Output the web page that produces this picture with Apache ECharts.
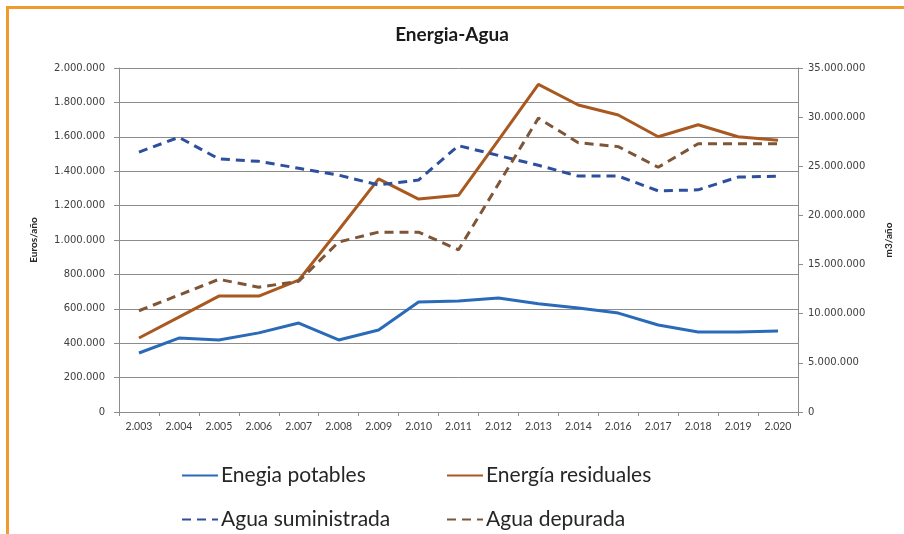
<!DOCTYPE html>
<html>
<head>
<meta charset="utf-8">
<script src="https://cdn.jsdelivr.net/npm/echarts@6/dist/echarts.min.js"></script>
<style>
  html, body { margin: 0; padding: 0; background: #fff; }
  #chart { width: 904px; height: 534px; }
  .frame {
    position: absolute; left: 6px; top: 6px; right: 0; bottom: 0;
    border-top: 3px solid #f29a2e; border-left: 3px solid #f29a2e;
    pointer-events: none;
  }
</style>
</head>
<body>
<div id="chart"></div>
<div class="frame"></div>
<script>
const years = ['2.003', '2.004', '2.005', '2.006', '2.007', '2.008', '2.009', '2.010', '2.011',
  '2.012', '2.013', '2.014', '2.016', '2.017', '2.018', '2.019', '2.020']

// euros/año (eje izquierdo)
const energiaPotables = [343000, 430000, 419000, 460000, 517000, 419000, 477000, 640000, 645000,
  663000, 630000, 605000, 575000, 506000, 465000, 465000, 471000]
const energiaResiduales = [430000, 552000, 674000, 674000, 767000, 1058000, 1355000, 1238000, 1260000,
  1580000, 1905000, 1785000, 1727000, 1600000, 1670000, 1600000, 1580000]

// m3/año (eje derecho)
const aguaSuministrada = [26450000, 27950000, 25750000, 25500000, 24800000, 24100000, 23100000, 23600000, 27100000,
  26100000, 25100000, 24000000, 24000000, 22500000, 22600000, 23900000, 24000000]
const aguaDepurada = [10300000, 11900000, 13500000, 12700000, 13300000, 17300000, 18300000, 18300000, 16500000,
  23200000, 29900000, 27400000, 27000000, 24900000, 27300000, 27300000, 27300000]

const fmt = v => String(v).replace(/\B(?=(\d{3})+(?!\d))/g, '.')

const chart = echarts.init(document.getElementById('chart'))
const txt = '#404040'
const legendText = { fontFamily: 'Lato', fontSize: 21, color: '#262626', padding: [0, 0, 0, -2] }
const legendBase = { itemWidth: 36, itemHeight: 14, itemStyle: { opacity: 0 }, textStyle: legendText }

chart.setOption({
  animation: false,
  backgroundColor: '#fff',
  title: {
    text: 'Energia-Agua',
    left: 'center',
    top: 20,
    textStyle: { fontFamily: 'Lato', fontSize: 19, fontWeight: 'bold', color: '#1a1a1a' }
  },
  legend: [
    Object.assign({ data: ['Enegia potables'], left: 176, top: 460 }, legendBase),
    Object.assign({ data: ['Energía residuales'], left: 441, top: 460 }, legendBase),
    Object.assign({ data: ['Agua suministrada'], left: 176, top: 504 }, legendBase),
    Object.assign({ data: ['Agua depurada'], left: 441, top: 504 }, legendBase)
  ],
  grid: { left: 119, right: 106, top: 68, bottom: 122 },
  xAxis: {
    type: 'category',
    data: years,
    axisLine: { lineStyle: { color: '#8c8c8c' } },
    axisTick: { show: true, length: 4, lineStyle: { color: '#8c8c8c' } },
    axisLabel: { fontFamily: 'Lato', fontSize: 10.5, color: txt, margin: 9 }
  },
  yAxis: [{
    type: 'value',
    min: 0,
    max: 2000000,
    interval: 200000,
    name: 'Euros/año',
    nameLocation: 'middle',
    nameRotate: 90,
    nameGap: 80,
    nameTextStyle: { fontFamily: 'Lato', fontSize: 10, fontWeight: 'bold', color: '#262626' },
    axisLine: { show: true, lineStyle: { color: '#8c8c8c' } },
    axisTick: { show: true, length: 5, lineStyle: { color: '#8c8c8c' } },
    splitLine: { lineStyle: { color: '#8c8c8c' } },
    axisLabel: { fontFamily: 'DejaVu Sans', fontSize: 10, color: txt, margin: 14, formatter: fmt }
  }, {
    type: 'value',
    min: 0,
    max: 35000000,
    interval: 5000000,
    name: 'm3/año',
    nameLocation: 'middle',
    nameRotate: 90,
    nameGap: 86,
    nameTextStyle: { fontFamily: 'Lato', fontSize: 10, fontWeight: 'bold', color: '#262626' },
    axisLine: { show: true, lineStyle: { color: '#8c8c8c' } },
    axisTick: { show: true, length: 5, lineStyle: { color: '#8c8c8c' } },
    splitLine: { show: false },
    axisLabel: { fontFamily: 'DejaVu Sans', fontSize: 10, color: txt, margin: 10, formatter: fmt }
  }],
  series: [{
    name: 'Enegia potables',
    type: 'line',
    yAxisIndex: 0,
    data: energiaPotables,
    symbol: 'none',
    color: '#2a6ab8',
    lineStyle: { width: 3, color: '#2a6ab8' }
  }, {
    name: 'Energía residuales',
    type: 'line',
    yAxisIndex: 0,
    data: energiaResiduales,
    symbol: 'none',
    color: '#a9581f',
    lineStyle: { width: 3, color: '#a9581f' }
  }, {
    name: 'Agua suministrada',
    type: 'line',
    yAxisIndex: 1,
    data: aguaSuministrada,
    symbol: 'none',
    color: '#2d4f9e',
    lineStyle: { width: 3, color: '#2d4f9e', type: [9, 6] }
  }, {
    name: 'Agua depurada',
    type: 'line',
    yAxisIndex: 1,
    data: aguaDepurada,
    symbol: 'none',
    color: '#7f5538',
    lineStyle: { width: 3, color: '#7f5538', type: [9, 6] }
  }]
})
</script>
</body>
</html>
